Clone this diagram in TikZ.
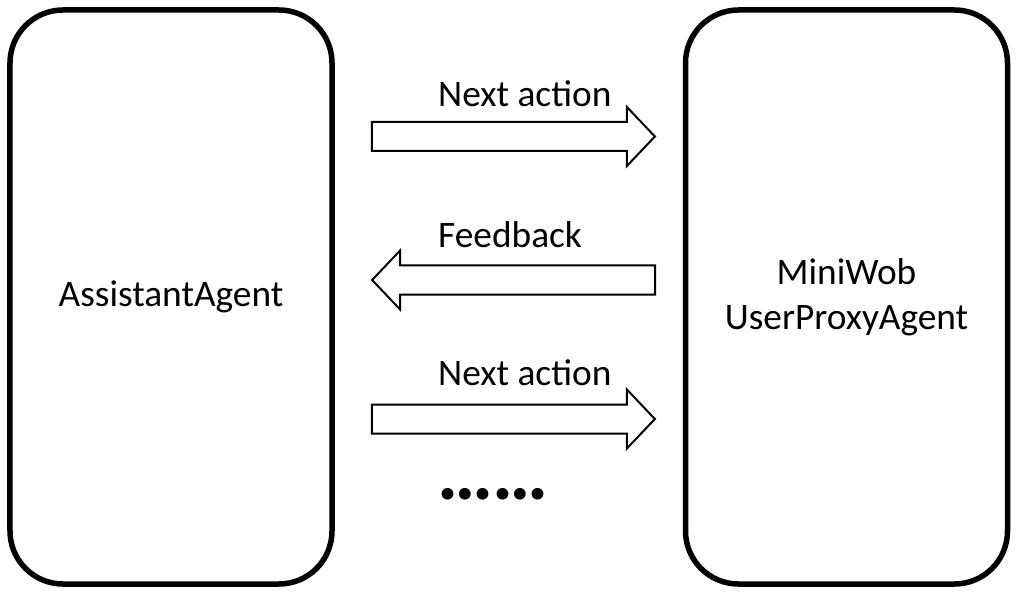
\documentclass[tikz,border=0pt]{standalone}
\usepackage{fontspec}
\setmainfont{Carlito}
\usepackage{tikz}
\usetikzlibrary{shapes.arrows}
\tikzset{agent/.style={draw,line width=5.5bp,rounded corners=53bp,minimum width=322bp,
  minimum height=574bp,align=center,font=\fontsize{37.5}{45}\selectfont},
  flow/.style={single arrow,draw,line width=2bp,fill=white,inner xsep=0pt,inner ysep=13.5bp,
  minimum height=283bp,single arrow head extend=15bp,single arrow tip angle=93},
  flabel/.style={anchor=base west,inner sep=0pt,font=\fontsize{37.5}{40}\selectfont}}

\begin{document}
\begin{tikzpicture}[x=1bp,y=-1bp]
 \useasboundingbox (0,0) rectangle (1019,602);
 \node[agent] (assistant) at (171,297) {AssistantAgent};
 \node[agent] (miniwob) at (846.5,297) {MiniWob\\UserProxyAgent};
 \node[flow] (act1) at (506.5,136.5) {};
 \node[flow,shape border rotate=180] (fb) at (520.5,280) {};
 \node[flow] (act2) at (506.5,419) {};
 \node[flabel] (lact1) at (438,107) {Next action};
 \node[flabel] (lfb) at (438,248) {Feedback};
 \node[flabel] (lact2) at (438,385) {Next action};
 \node[font=\fontsize{79}{79}\selectfont\bfseries] (more) at (493,494) {……};
\end{tikzpicture}
\end{document}
